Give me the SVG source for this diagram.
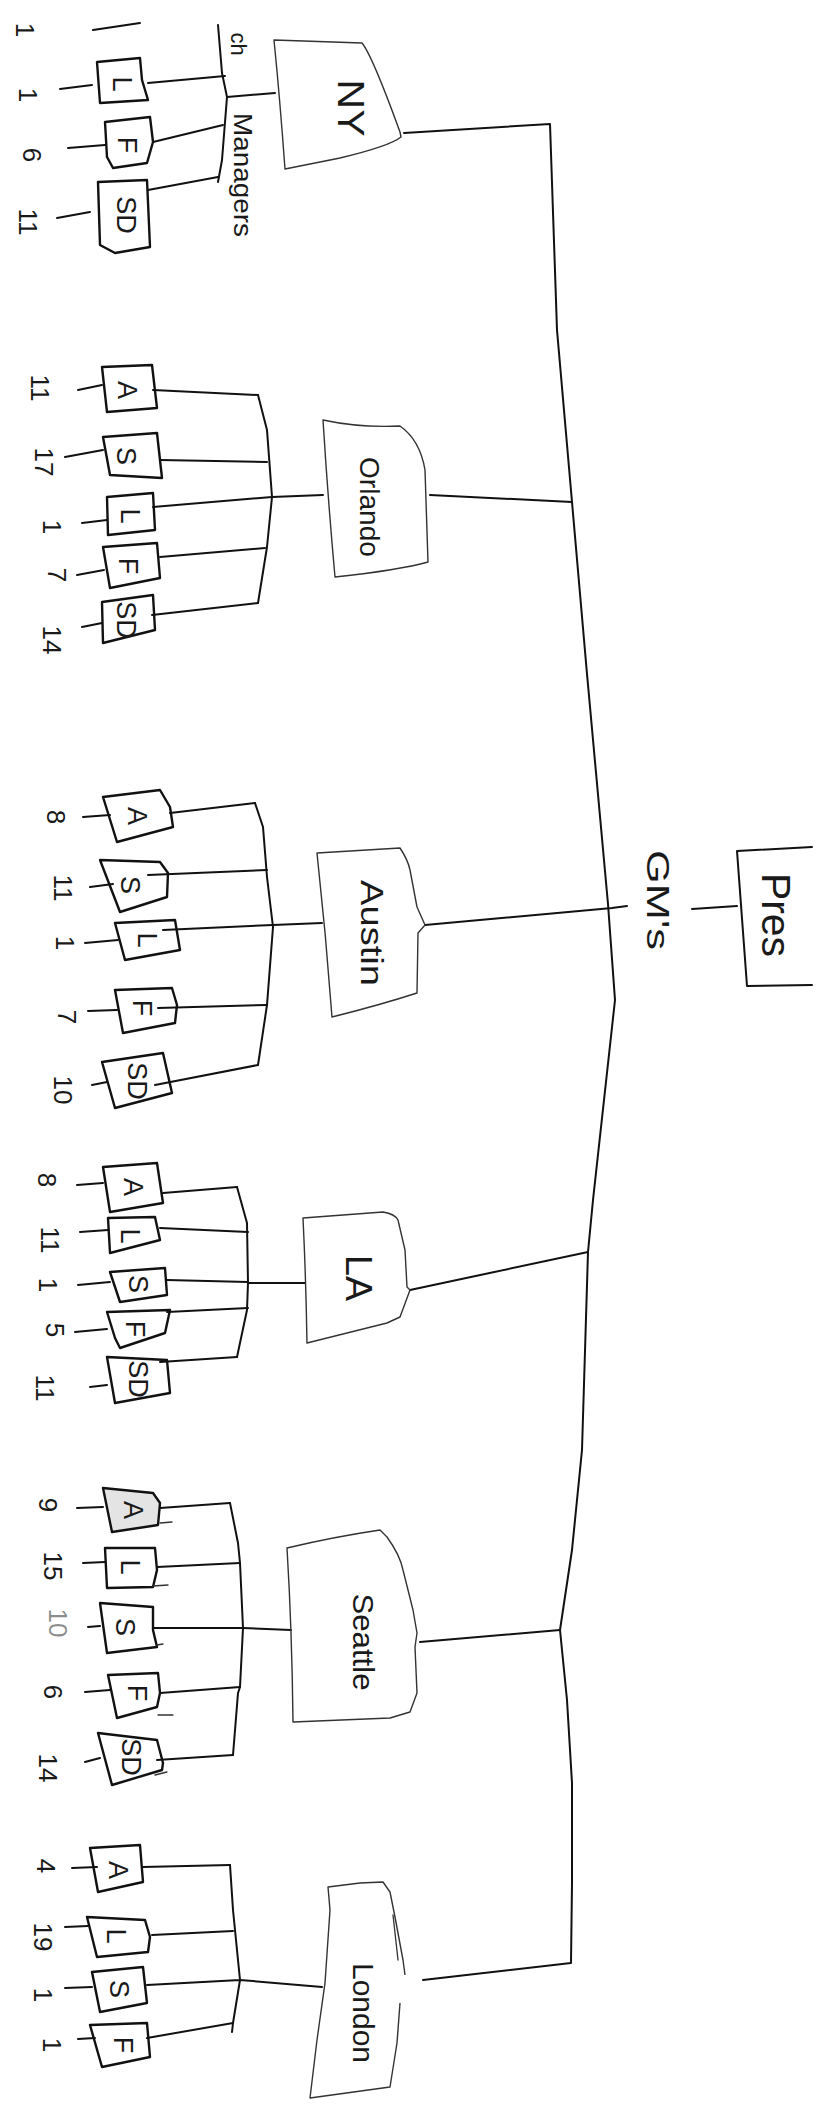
<svg xmlns="http://www.w3.org/2000/svg" width="827" height="2112" viewBox="0 0 827 2112">
<style>
.bg{fill:#fff}
.ln{fill:none;stroke:#111;stroke-width:2;stroke-linecap:round;stroke-linejoin:round}
.thin{fill:none;stroke:#333;stroke-width:1.3;stroke-linecap:round;stroke-linejoin:round}
.city{fill:none;stroke:#333;stroke-width:1.4;stroke-linejoin:round}
.box{fill:none;stroke:#111;stroke-width:2.4;stroke-linejoin:round}
.t{font-family:"Liberation Sans",Arial,sans-serif;fill:#1a1a1a;text-anchor:middle;dominant-baseline:central}
.num{font-size:26px}
.let{font-size:27px}
</style>
<rect class="bg" x="0" y="0" width="827" height="2112"/>

<g id="connectors">
  <!-- main trunk -->
  <path class="ln" d="M404,133 L550,124 L557,330 L572,502 L587,674 L608,904 L615,1000 L593,1200 L588,1252 L582,1450 L572,1550 L560,1630 L567,1700 L572,1783 L572,1883 L571,1963 L423,1980"/>
  <path class="ln" d="M430,495 L572,502"/>
  <path class="ln" d="M425,925 L612,908 L627,906"/>
  <path class="ln" d="M410,1290 L588,1252"/>
  <path class="ln" d="M420,1642 L560,1630"/>
  <path class="ln" d="M692,909 L737,906"/>
  <!-- NY -->
  <path class="ln" d="M218,25 L222,73 L227,97 L222,160 L218,182"/>
  <path class="ln" d="M227,97 L275,93"/>
  <path class="ln" d="M148,83 L225,76"/>
  <path class="ln" d="M153,142 L223,125"/>
  <path class="ln" d="M148,190 L218,177"/>
  <path class="ln" d="M93,30 L140,23"/>
  <path class="ln" d="M60,89 L92,85 M68,148 L105,145 M57,218 L90,212"/>
  <!-- Orlando -->
  <path class="ln" d="M258,395 L267,430 L272,497 L267,547 L258,603"/>
  <path class="ln" d="M153,390 L258,395 M160,460 L267,462 M153,507 L272,497 M160,557 L265,548 M152,615 L258,603 M272,497 L323,495"/>
  <path class="ln" d="M78,390 L102,385 M65,457 L103,450 M82,523 L107,520 M77,575 L104,570 M82,627 L102,623"/>
  <!-- Austin -->
  <path class="ln" d="M255,803 L263,827 L267,877 L273,927 L267,1005 L258,1065"/>
  <path class="ln" d="M170,813 L255,803 M148,875 L267,870 M163,930 L273,925 M158,1008 L267,1005 M155,1085 L258,1065 M273,925 L322,923"/>
  <path class="ln" d="M83,817 L110,815 M90,887 L113,884 M85,943 L118,940 M88,1011 L117,1010 M92,1085 L107,1082"/>
  <!-- LA -->
  <path class="ln" d="M237,1187 L247,1223 L248,1283 L247,1310 L237,1357"/>
  <path class="ln" d="M163,1193 L237,1187 M160,1228 L248,1232 M167,1280 L248,1282 M167,1312 L248,1308 M160,1362 L237,1357 M248,1283 L305,1283"/>
  <path class="ln" d="M77,1185 L103,1183 M80,1232 L108,1230 M78,1285 L110,1282 M75,1332 L107,1329 M90,1387 L107,1385"/>
  <!-- Seattle -->
  <path class="ln" d="M230,1503 L238,1543 L240,1563 L243,1628 L240,1687 L238,1693 L233,1755"/>
  <path class="ln" d="M160,1508 L230,1503 M157,1567 L240,1563 M153,1628 L243,1628 L291,1630 M160,1693 L240,1687 M157,1760 L233,1755"/>
  <path class="ln" d="M77,1508 L103,1507 M83,1563 L105,1562 M88,1627 L100,1626 M85,1692 L110,1690 M85,1762 L100,1758"/>
  <!-- London -->
  <path class="ln" d="M230,1865 L233,1910 L240,1980 L233,2023 L232,2032"/>
  <path class="ln" d="M143,1867 L230,1865 M152,1935 L233,1931 M147,1985 L240,1980 M147,2038 L233,2023 M240,1980 L322,1987"/>
  <path class="ln" d="M72,1868 L97,1867 M65,1927 L88,1926 M65,1988 L92,1987 M78,2039 L95,2038"/>
</g>

<g id="pres">
  <path class="ln" d="M812,847 L737,851 L747,986 L812,985"/>
  <text class="t" font-size="40" transform="translate(776,915) rotate(90)" textLength="84" lengthAdjust="spacingAndGlyphs">Pres</text>
</g>
<g id="gms-label">
  <text class="t" font-size="32" transform="translate(658,900) rotate(90)" textLength="100" lengthAdjust="spacingAndGlyphs">GM's</text>
</g>

<g id="ny">
  <path class="city" d="M274,40 L362,43 Q372,55 400,132 L401,137 Q390,146 340,158 L285,169 Q280,100 274,40 Z"/>
  <text class="t" font-size="36" transform="translate(350,108) rotate(90)" textLength="57" lengthAdjust="spacingAndGlyphs">NY</text>
  <text class="t" font-size="22" transform="translate(238,44) rotate(90)">ch</text>
  <text class="t" font-size="26" transform="translate(243,175) rotate(90)" textLength="124" lengthAdjust="spacingAndGlyphs">Managers</text>
  <text class="t num" transform="translate(25,30) rotate(90)">1</text>
  <text class="t num" transform="translate(28,95) rotate(90)">1</text>
  <text class="t num" transform="translate(32,155) rotate(90)">6</text>
  <text class="t num" transform="translate(28,222) rotate(90)">11</text>
  <g id="ny-l"><path class="box" d="M97,62 L140,58 L142,80 L148,100 L100,103 Z"/><text class="t let" transform="translate(122,84) rotate(90)">L</text></g>
  <g id="ny-f"><path class="box" d="M105,122 L150,117 L153,142 L147,163 L113,168 L107,157 Z"/><text class="t let" transform="translate(127,145) rotate(90)">F</text></g>
  <g id="ny-sd"><path class="box" d="M98,182 L147,180 L150,247 L115,253 L100,245 Z"/><text class="t let" transform="translate(126,215) rotate(90)">SD</text></g>
</g>

<g id="orlando">
  <path class="city" d="M323,420 Q360,428 400,426 Q420,440 425,470 L428,562 Q400,570 335,577 Q328,500 323,420 Z"/>
  <text class="t" font-size="28" transform="translate(369,507) rotate(90)" textLength="100" lengthAdjust="spacingAndGlyphs">Orlando</text>
  <text class="t num" transform="translate(40,388) rotate(90)">11</text>
  <text class="t num" transform="translate(44,462) rotate(90)">17</text>
  <text class="t num" transform="translate(52,527) rotate(90)">1</text>
  <text class="t num" transform="translate(57,575) rotate(90)">7</text>
  <text class="t num" transform="translate(52,640) rotate(90)">14</text>
  <g id="orl-a"><path class="box" d="M102,367 L152,365 L157,408 L107,412 Z"/><text class="t let" transform="translate(127,390) rotate(90)">A</text></g>
  <g id="orl-s"><path class="box" d="M103,437 L157,433 L162,478 L110,475 Z"/><text class="t let" transform="translate(126,456) rotate(90)">S</text></g>
  <g id="orl-l"><path class="box" d="M107,497 L153,493 L155,530 L108,535 Z"/><text class="t let" transform="translate(130,516) rotate(90)">L</text></g>
  <g id="orl-f"><path class="box" d="M103,547 L157,543 L160,578 L110,588 Z"/><text class="t let" transform="translate(128,566) rotate(90)">F</text></g>
  <g id="orl-sd"><path class="box" d="M102,602 L153,595 L155,630 L103,643 Z"/><text class="t let" transform="translate(126,620) rotate(90)">SD</text></g>
</g>

<g id="austin">
  <path class="city" d="M317,853 L400,848 Q408,860 410,870 L417,907 L425,925 L418,933 L417,993 Q380,1005 332,1017 Q326,935 317,853 Z"/>
  <text class="t" font-size="32" transform="translate(372,933) rotate(90)" textLength="106" lengthAdjust="spacingAndGlyphs">Austin</text>
  <text class="t num" transform="translate(56,817) rotate(90)">8</text>
  <text class="t num" transform="translate(63,888) rotate(90)">11</text>
  <text class="t num" transform="translate(65,943) rotate(90)">1</text>
  <text class="t num" transform="translate(67,1017) rotate(90)">7</text>
  <text class="t num" transform="translate(63,1090) rotate(90)">10</text>
  <g id="aus-a"><path class="box" d="M103,797 L160,790 L170,807 L173,827 L117,842 Z"/><text class="t let" transform="translate(137,816) rotate(90)">A</text></g>
  <g id="aus-s"><path class="box" d="M100,860 L160,862 L168,873 L167,897 L120,912 Z"/><text class="t let" transform="translate(130,885) rotate(90)">S</text></g>
  <g id="aus-l"><path class="box" d="M115,923 L175,920 L180,950 L125,960 Z"/><text class="t let" transform="translate(147,940) rotate(90)">L</text></g>
  <g id="aus-f"><path class="box" d="M115,990 L172,988 L177,1005 L175,1023 L123,1033 Z"/><text class="t let" transform="translate(142,1008) rotate(90)">F</text></g>
  <g id="aus-sd"><path class="box" d="M102,1062 L163,1053 L172,1093 L115,1108 Z"/><text class="t let" transform="translate(137,1081) rotate(90)">SD</text></g>
</g>

<g id="la">
  <path class="city" d="M303,1218 L383,1212 Q395,1214 398,1220 L405,1250 L407,1287 L410,1290 L400,1317 L387,1323 L307,1343 Q306,1280 303,1218 Z"/>
  <text class="t" font-size="36" transform="translate(358,1278) rotate(90)" textLength="46" lengthAdjust="spacingAndGlyphs">LA</text>
  <text class="t num" transform="translate(47,1180) rotate(90)">8</text>
  <text class="t num" transform="translate(50,1240) rotate(90)">11</text>
  <text class="t num" transform="translate(48,1285) rotate(90)">1</text>
  <text class="t num" transform="translate(55,1330) rotate(90)">5</text>
  <text class="t num" transform="translate(45,1388) rotate(90)">11</text>
  <g id="la-a"><path class="box" d="M103,1167 L157,1163 L163,1203 L110,1212 Z"/><text class="t let" transform="translate(133,1187) rotate(90)">A</text></g>
  <g id="la-l"><path class="box" d="M108,1218 L155,1217 L160,1240 L110,1253 Z"/><text class="t let" transform="translate(130,1236) rotate(90)">L</text></g>
  <g id="la-s"><path class="box" d="M110,1272 L165,1268 L167,1295 L120,1302 Z"/><text class="t let" transform="translate(138,1284) rotate(90)">S</text></g>
  <g id="la-f"><path class="box" d="M107,1312 L170,1310 L165,1333 L120,1348 L115,1338 Z"/><text class="t let" transform="translate(135,1329) rotate(90)">F</text></g>
  <g id="la-sd"><path class="box" d="M107,1357 L167,1360 L170,1393 L115,1403 Z"/><text class="t let" transform="translate(138,1379) rotate(90)">SD</text></g>
</g>

<g id="seattle">
  <path class="city" d="M287,1548 Q333,1537 380,1530 L387,1537 Q400,1555 403,1570 L413,1610 L417,1633 L415,1647 L417,1693 L410,1712 L390,1718 L293,1722 Q292,1630 287,1548 Z"/>
  <text class="t" font-size="30" transform="translate(363,1642) rotate(90)" textLength="97" lengthAdjust="spacingAndGlyphs">Seattle</text>
  <text class="t num" transform="translate(48,1505) rotate(90)">9</text>
  <text class="t num" transform="translate(53,1566) rotate(90)">15</text>
  <text class="t num" fill-opacity="0.5" transform="translate(58,1623) rotate(90)">10</text>
  <text class="t num" transform="translate(53,1692) rotate(90)">6</text>
  <text class="t num" transform="translate(48,1768) rotate(90)">14</text>
  <g id="sea-a"><path class="box" style="fill:#e4e4e4" d="M103,1488 L153,1493 L160,1503 L158,1525 L112,1532 Z"/><text class="t let" transform="translate(133,1510) rotate(90)">A</text></g>
  <g id="sea-l"><path class="box" d="M105,1548 L155,1548 L157,1570 L153,1587 L107,1588 Z"/><text class="t let" transform="translate(130,1567) rotate(90)">L</text></g>
  <g id="sea-s"><path class="box" d="M100,1603 L153,1607 L153,1630 L157,1647 L107,1653 Z"/><text class="t let" transform="translate(125,1627) rotate(90)">S</text></g>
  <g id="sea-f"><path class="box" d="M108,1675 L158,1673 L160,1693 L157,1707 L117,1718 Z"/><text class="t let" transform="translate(137,1693) rotate(90)">F</text></g>
  <g id="sea-sd"><path class="box" d="M98,1733 L157,1740 L163,1763 L162,1770 L112,1785 Z"/><text class="t let" transform="translate(131,1757) rotate(90)">SD</text></g>
  <path class="thin" d="M160,1523 L172,1522 M153,1586 L168,1585 M157,1645 L163,1644 M158,1715 L173,1715 M155,1775 L167,1772"/>
</g>

<g id="london">
  <path class="city" d="M405,1975 L403,1960 L395,1917 L390,1892 L383,1882 L360,1883 L328,1887 L330,1910 L325,1983 L317,2040 L310,2098 L390,2087 L397,2043 L400,2003"/>
  <path class="thin" d="M393,1915 L398,1960"/>
  <text class="t" font-size="30" transform="translate(363,2013) rotate(90)" textLength="100" lengthAdjust="spacingAndGlyphs">London</text>
  <text class="t num" transform="translate(46,1866) rotate(90)">4</text>
  <text class="t num" transform="translate(43,1937) rotate(90)">19</text>
  <text class="t num" transform="translate(43,1995) rotate(90)">1</text>
  <text class="t num" transform="translate(52,2045) rotate(90)">1</text>
  <g id="lon-a"><path class="box" d="M90,1848 L140,1845 L143,1882 L98,1892 Z"/><text class="t let" transform="translate(118,1870) rotate(90)">A</text></g>
  <g id="lon-l"><path class="box" d="M87,1917 L145,1920 L150,1937 L148,1952 L97,1957 Z"/><text class="t let" transform="translate(116,1936) rotate(90)">L</text></g>
  <g id="lon-s"><path class="box" d="M92,1972 L143,1967 L147,2003 L100,2012 Z"/><text class="t let" transform="translate(119,1989) rotate(90)">S</text></g>
  <g id="lon-f"><path class="box" d="M90,2025 L147,2023 L150,2057 L102,2067 Z"/><text class="t let" transform="translate(123,2045) rotate(90)">F</text></g>
</g>
</svg>
